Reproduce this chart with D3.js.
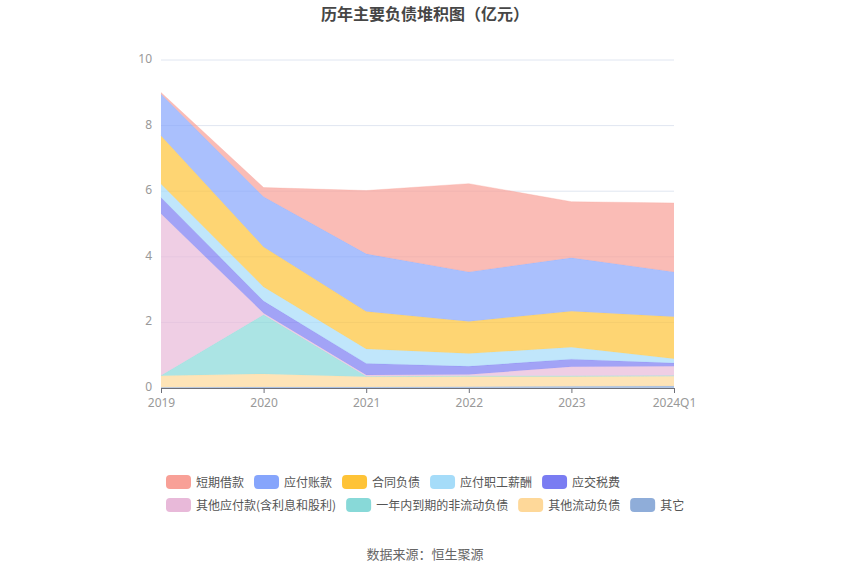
<!DOCTYPE html>
<html><head><meta charset="utf-8">
<script src="https://cdn.jsdelivr.net/npm/d3@7/dist/d3.min.js"></script>
<style>body{margin:0;background:#fff;}svg{display:block;font-family:"Noto Sans CJK SC","Noto Sans",sans-serif;}</style>
</head><body><svg id="c" width="850" height="575"></svg>
<script>
const categories = ["2019","2020","2021","2022","2023","2024Q1"];
const seriesNames = ["短期借款","应付账款","合同负债","应付职工薪酬","应交税费","其他应付款(含利息和股利)","一年内到期的非流动负债","其他流动负债","其它"];
const seriesColors = ["#f8a097","#86a5fc","#fec337","#a5dcf9","#7a7cf2","#e8b9d9","#88d9d8","#fed899","#8fadd9"];
// values in 亿元, one array per series (same order as categories)
const v短期借款 = [0.05, 0.28, 1.93, 2.69, 1.71, 2.10];
const v应付账款 = [1.27, 1.53, 1.76, 1.51, 1.63, 1.37];
const v合同负债 = [1.47, 1.22, 1.14, 0.98, 1.10, 1.28];
const v应付职工薪酬 = [0.41, 0.43, 0.44, 0.39, 0.36, 0.13];
const v应交税费 = [0.50, 0.37, 0.35, 0.25, 0.23, 0.10];
const v其他应付款 = [4.93, 0.05, 0.04, 0.04, 0.28, 0.28];
const v一年内到期 = [0.01, 1.80, 0.02, 0.02, 0.02, 0.02];
const v其他流动负债 = [0.35, 0.40, 0.31, 0.31, 0.30, 0.30];
const v其它 = [0.02, 0.03, 0.03, 0.04, 0.05, 0.06];
const yTicks = [0,2,4,6,8,10];

const seriesValues = [v短期借款,v应付账款,v合同负债,v应付职工薪酬,v应交税费,v其他应付款,v一年内到期,v其他流动负债,v其它];

const svg = d3.select("#c");
const x = d3.scalePoint().domain(categories).range([161,674]);
const y = d3.scaleLinear().domain([0,10]).range([388,60]);

// gridlines
svg.append("g").selectAll("line").data(yTicks.filter(d=>d>0)).join("line")
  .attr("x1",161).attr("x2",674).attr("y1",d=>y(d)).attr("y2",d=>y(d))
  .attr("stroke","#e0e6f1").attr("stroke-width",1);

// stack: bottom is last series (其它)
const stackOrder = seriesNames.map((n,i)=>i).reverse();
const rows = categories.map((c,ci)=>{
  const r = {cat:c};
  seriesNames.forEach((n,si)=>{ r[n]=seriesValues[si][ci]; });
  return r;
});
const stack = d3.stack().keys(stackOrder.map(i=>seriesNames[i]));
const layers = stack(rows);
const area = d3.area().x(d=>x(d.data.cat)).y0(d=>y(d[0])).y1(d=>y(d[1]));
const line = d3.line().x(d=>x(d.data.cat)).y(d=>y(d[1]));
const g = svg.append("g");
layers.forEach(L=>{
  const col = seriesColors[seriesNames.indexOf(L.key)];
  g.append("path").attr("d",area(L)).attr("fill",col).attr("fill-opacity",0.7);
  g.append("path").attr("d",line(L)).attr("fill","none").attr("stroke",col).attr("stroke-opacity",0.5).attr("stroke-width",0.6);
});

// axes
const numFont = "'Noto Sans',sans-serif";
const xAxis = svg.append("g").attr("transform","translate(0,388)")
  .call(d3.axisBottom(x).tickSize(5).tickPadding(5));
xAxis.select(".domain").attr("stroke","#6e7079");
xAxis.selectAll(".tick line").attr("stroke","#6e7079");
xAxis.selectAll("text").attr("fill","#999").attr("font-size",12).attr("font-family",numFont);

const yAxis = svg.append("g").attr("transform","translate(161,0)")
  .call(d3.axisLeft(y).tickValues(yTicks).tickSize(0).tickPadding(9));
yAxis.select(".domain").remove();
yAxis.selectAll("text").attr("fill","#999").attr("font-size",12).attr("dy","0.2em").attr("font-family",numFont);

// title
svg.append("text").attr("x",425).attr("y",20).attr("text-anchor","middle")
  .attr("font-size",16).attr("font-weight","bold").attr("fill","#464646")
  .text("历年主要负债堆积图（亿元）");

// legend
const legendRows = [[0,1,2,3,4],[5,6,7,8]];
const legendY = [482,505];
legendRows.forEach((row,ri)=>{
  let cx = 166;
  row.forEach(si=>{
    const gg = svg.append("g");
    gg.append("rect").attr("x",cx).attr("y",legendY[ri]-7).attr("width",25).attr("height",14)
      .attr("rx",4).attr("fill",seriesColors[si]);
    const t = gg.append("text").attr("x",cx+30).attr("y",legendY[ri]+4.5)
      .attr("font-size",12).attr("fill","#555").text(seriesNames[si]);
    cx += 30 + t.node().getComputedTextLength() + 10;
  });
});

// source
svg.append("text").attr("x",425).attr("y",559).attr("text-anchor","middle")
  .attr("font-size",13).attr("fill","#666").text("数据来源：恒生聚源");
</script></body></html>
